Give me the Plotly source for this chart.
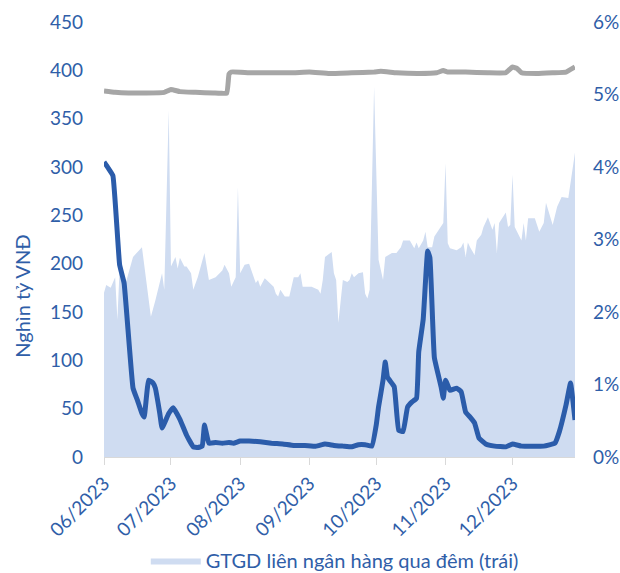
import plotly.graph_objects as go

# Interbank overnight trading volume (thousand billion VND, left axis)
vol_dates = [
    "2023-06-01", "2023-06-02", "2023-06-04", "2023-06-06", "2023-06-07", "2023-06-08",
    "2023-06-11", "2023-06-14", "2023-06-18", "2023-06-22", "2023-06-24", "2023-06-27",
    "2023-06-28", "2023-06-30", "2023-07-01", "2023-07-03", "2023-07-04", "2023-07-05",
    "2023-07-07", "2023-07-08", "2023-07-10", "2023-07-11", "2023-07-13", "2023-07-16",
    "2023-07-18", "2023-07-21", "2023-07-24", "2023-07-25", "2023-07-27", "2023-07-28",
    "2023-07-30", "2023-07-31", "2023-08-01", "2023-08-03", "2023-08-05", "2023-08-06",
    "2023-08-08", "2023-08-09", "2023-08-10", "2023-08-12", "2023-08-14", "2023-08-16",
    "2023-08-17", "2023-08-18", "2023-08-19", "2023-08-21", "2023-08-23", "2023-08-25",
    "2023-08-27", "2023-08-28", "2023-08-29", "2023-09-02", "2023-09-05", "2023-09-06",
    "2023-09-07", "2023-09-08", "2023-09-11", "2023-09-12", "2023-09-13", "2023-09-14",
    "2023-09-16", "2023-09-18", "2023-09-19", "2023-09-20", "2023-09-21", "2023-09-23",
    "2023-09-25", "2023-09-26", "2023-09-27", "2023-09-28", "2023-09-30", "2023-10-02",
    "2023-10-04", "2023-10-05", "2023-10-08", "2023-10-10", "2023-10-12", "2023-10-13",
    "2023-10-16", "2023-10-18", "2023-10-19", "2023-10-20", "2023-10-22", "2023-10-23",
    "2023-10-24", "2023-10-26", "2023-10-27", "2023-10-29", "2023-10-31", "2023-11-01",
    "2023-11-02", "2023-11-03", "2023-11-06", "2023-11-08", "2023-11-09", "2023-11-10",
    "2023-11-11", "2023-11-12", "2023-11-14", "2023-11-15", "2023-11-17", "2023-11-18",
    "2023-11-20", "2023-11-22", "2023-11-23", "2023-11-24", "2023-11-25", "2023-11-28",
    "2023-11-29", "2023-11-30", "2023-12-01", "2023-12-02", "2023-12-05", "2023-12-06",
    "2023-12-07", "2023-12-08", "2023-12-11", "2023-12-13", "2023-12-15", "2023-12-16",
    "2023-12-19", "2023-12-21", "2023-12-23", "2023-12-26", "2023-12-28", "2023-12-29",
]
vol_values = [
    170, 178, 175, 186, 142, 195,
    182, 207, 217, 145, 162, 190,
    173, 359, 197, 207, 195, 206,
    197, 197, 190, 173, 186, 211,
    183, 186, 193, 199, 190, 176,
    186, 279, 190, 199, 200, 193,
    180, 183, 176, 185, 181, 176,
    169, 166, 173, 166, 166, 186,
    186, 190, 176, 176, 173, 169,
    183, 207, 212, 190, 183, 139,
    183, 181, 183, 190, 186, 190,
    191, 169, 164, 173, 383, 204,
    183, 207, 211, 211, 217, 224,
    224, 216, 222, 216, 224, 233,
    217, 217, 228, 235, 242, 304,
    221, 216, 214, 217, 222, 207,
    222, 217, 209, 224, 230, 238,
    248, 235, 242, 211, 242, 253,
    238, 240, 292, 238, 224, 242,
    224, 247, 247, 233, 242, 263,
    240, 259, 269, 268, 300, 315,
]

# Overnight interbank rate (%, right axis)
rate_dates = [
    "2023-06-01", "2023-06-03", "2023-06-05", "2023-06-08", "2023-06-10", "2023-06-14",
    "2023-06-16", "2023-06-18", "2023-06-19", "2023-06-21", "2023-06-23", "2023-06-24",
    "2023-06-26", "2023-06-27", "2023-06-30", "2023-07-02", "2023-07-05", "2023-07-08",
    "2023-07-11", "2023-07-13", "2023-07-15", "2023-07-16", "2023-07-18", "2023-07-21",
    "2023-07-24", "2023-07-27", "2023-07-29", "2023-08-01", "2023-08-05", "2023-08-10",
    "2023-08-15", "2023-08-20", "2023-08-25", "2023-08-30", "2023-09-04", "2023-09-08",
    "2023-09-12", "2023-09-16", "2023-09-20", "2023-09-23", "2023-09-26", "2023-09-29",
    "2023-10-01", "2023-10-02", "2023-10-04", "2023-10-05", "2023-10-06", "2023-10-09",
    "2023-10-11", "2023-10-13", "2023-10-15", "2023-10-17", "2023-10-19", "2023-10-20",
    "2023-10-22", "2023-10-24", "2023-10-25", "2023-10-27", "2023-10-30", "2023-10-31",
    "2023-11-01", "2023-11-03", "2023-11-06", "2023-11-08", "2023-11-10", "2023-11-12",
    "2023-11-14", "2023-11-16", "2023-11-19", "2023-11-23", "2023-11-28", "2023-12-01",
    "2023-12-05", "2023-12-10", "2023-12-15", "2023-12-20", "2023-12-22", "2023-12-25",
    "2023-12-27", "2023-12-29",
]
rate_values = [
    4.07, 3.98, 3.88, 2.65, 2.40, 0.95,
    0.78, 0.60, 0.55, 1.06, 1.02, 0.95,
    0.60, 0.40, 0.60, 0.68, 0.52, 0.30,
    0.14, 0.13, 0.15, 0.44, 0.19, 0.20,
    0.19, 0.20, 0.19, 0.22, 0.22, 0.21,
    0.19, 0.18, 0.16, 0.16, 0.15, 0.18,
    0.16, 0.15, 0.14, 0.17, 0.17, 0.15,
    0.45, 0.69, 1.06, 1.31, 1.10, 0.97,
    0.37, 0.35, 0.69, 0.76, 0.81, 1.45,
    1.90, 2.84, 2.75, 1.37, 0.97, 0.81,
    1.06, 0.92, 0.95, 0.90, 0.62, 0.55,
    0.47, 0.26, 0.18, 0.15, 0.14, 0.18,
    0.15, 0.15, 0.15, 0.19, 0.35, 0.72,
    1.02, 0.51,
]

# Reference rate (%, right axis)
ref_dates = [
    "2023-06-01", "2023-06-06", "2023-06-12", "2023-06-20", "2023-06-28", "2023-07-01",
    "2023-07-05", "2023-07-12", "2023-07-20", "2023-07-26", "2023-07-27", "2023-07-28",
    "2023-08-05", "2023-08-15", "2023-08-25", "2023-09-01", "2023-09-10", "2023-09-20",
    "2023-09-30", "2023-10-03", "2023-10-10", "2023-10-20", "2023-10-28", "2023-10-31",
    "2023-11-02", "2023-11-10", "2023-11-20", "2023-11-28", "2023-12-01", "2023-12-03",
    "2023-12-05", "2023-12-12", "2023-12-19", "2023-12-25", "2023-12-29",
]
ref_values = [
    5.05, 5.03, 5.02, 5.02, 5.03, 5.07,
    5.04, 5.03, 5.02, 5.02, 5.28, 5.31,
    5.30, 5.30, 5.30, 5.31, 5.29, 5.30,
    5.31, 5.32, 5.30, 5.29, 5.30, 5.33,
    5.31, 5.31, 5.30, 5.30, 5.38, 5.36,
    5.30, 5.29, 5.30, 5.31, 5.38,
]

left_ticks = [0, 50, 100, 150, 200, 250, 300, 350, 400, 450]
right_ticks = [0, 1, 2, 3, 4, 5, 6]
month_ticks = ["2023-06-01", "2023-07-01", "2023-08-01", "2023-09-01",
               "2023-10-01", "2023-11-01", "2023-12-01"]

BLUE_TEXT = "#2F5EA8"
FONT = "Lato"

fig = go.Figure()

fig.add_trace(go.Scatter(
    x=vol_dates, y=vol_values, mode="lines", fill="tozeroy",
    line=dict(width=0, color="#CFDCF1"), fillcolor="#CFDCF1",
    name="GTGD liên ngân hàng qua đêm (trái)",
))
fig.add_trace(go.Scatter(
    x=ref_dates, y=ref_values, mode="lines", yaxis="y2",
    line=dict(width=5, color="#A6A6A6", shape="spline", smoothing=0.3),
    showlegend=False,
))
fig.add_trace(go.Scatter(
    x=rate_dates, y=rate_values, mode="lines", yaxis="y2",
    line=dict(width=5, color="#2B5CAA", shape="spline", smoothing=0.3),
    showlegend=False,
))

fig.update_layout(
    width=620, height=573,
    margin=dict(l=104, r=45, t=22, b=116, autoexpand=False),
    paper_bgcolor="white", plot_bgcolor="white",
    font=dict(family=FONT, size=18, color=BLUE_TEXT),
    xaxis=dict(
        type="date", range=["2023-06-01", "2023-12-29"],
        tickvals=month_ticks, tickformat="%m/%Y", tickangle=-45,
        ticks="outside", ticklen=7, tickcolor="#D9D9D9", tickwidth=1,
        showline=True, linecolor="#D9D9D9", linewidth=1,
        showgrid=False, zeroline=False, automargin=False,
        tickfont=dict(family=FONT, size=19, color=BLUE_TEXT),
    ),
    yaxis=dict(
        range=[0, 450], tickvals=left_ticks,
        showgrid=False, zeroline=False, showline=False, automargin=False,
        ticklabelstandoff=20,
        tickfont=dict(family=FONT, size=19, color=BLUE_TEXT),
    ),
    yaxis2=dict(
        range=[0, 6], tickvals=right_ticks,
        ticktext=[f"{v}%" for v in right_ticks],
        overlaying="y", side="right",
        showgrid=False, zeroline=False, showline=False, automargin=False,
        ticklabelstandoff=17,
        tickfont=dict(family=FONT, size=19, color=BLUE_TEXT),
    ),
    legend=dict(
        orientation="h", x=0.49, xanchor="center", y=-0.238, yanchor="middle",
        font=dict(family=FONT, size=20, color=BLUE_TEXT),
        itemwidth=50, bgcolor="rgba(0,0,0,0)",
    ),
    annotations=[dict(
        text="Nghìn tỷ VNĐ", textangle=-90, showarrow=False,
        xref="paper", yref="paper", x=-0.175, y=0.37,
        xanchor="center", yanchor="middle",
        font=dict(family=FONT, size=20, color=BLUE_TEXT),
    )],
)

fig.write_html("out.html")
